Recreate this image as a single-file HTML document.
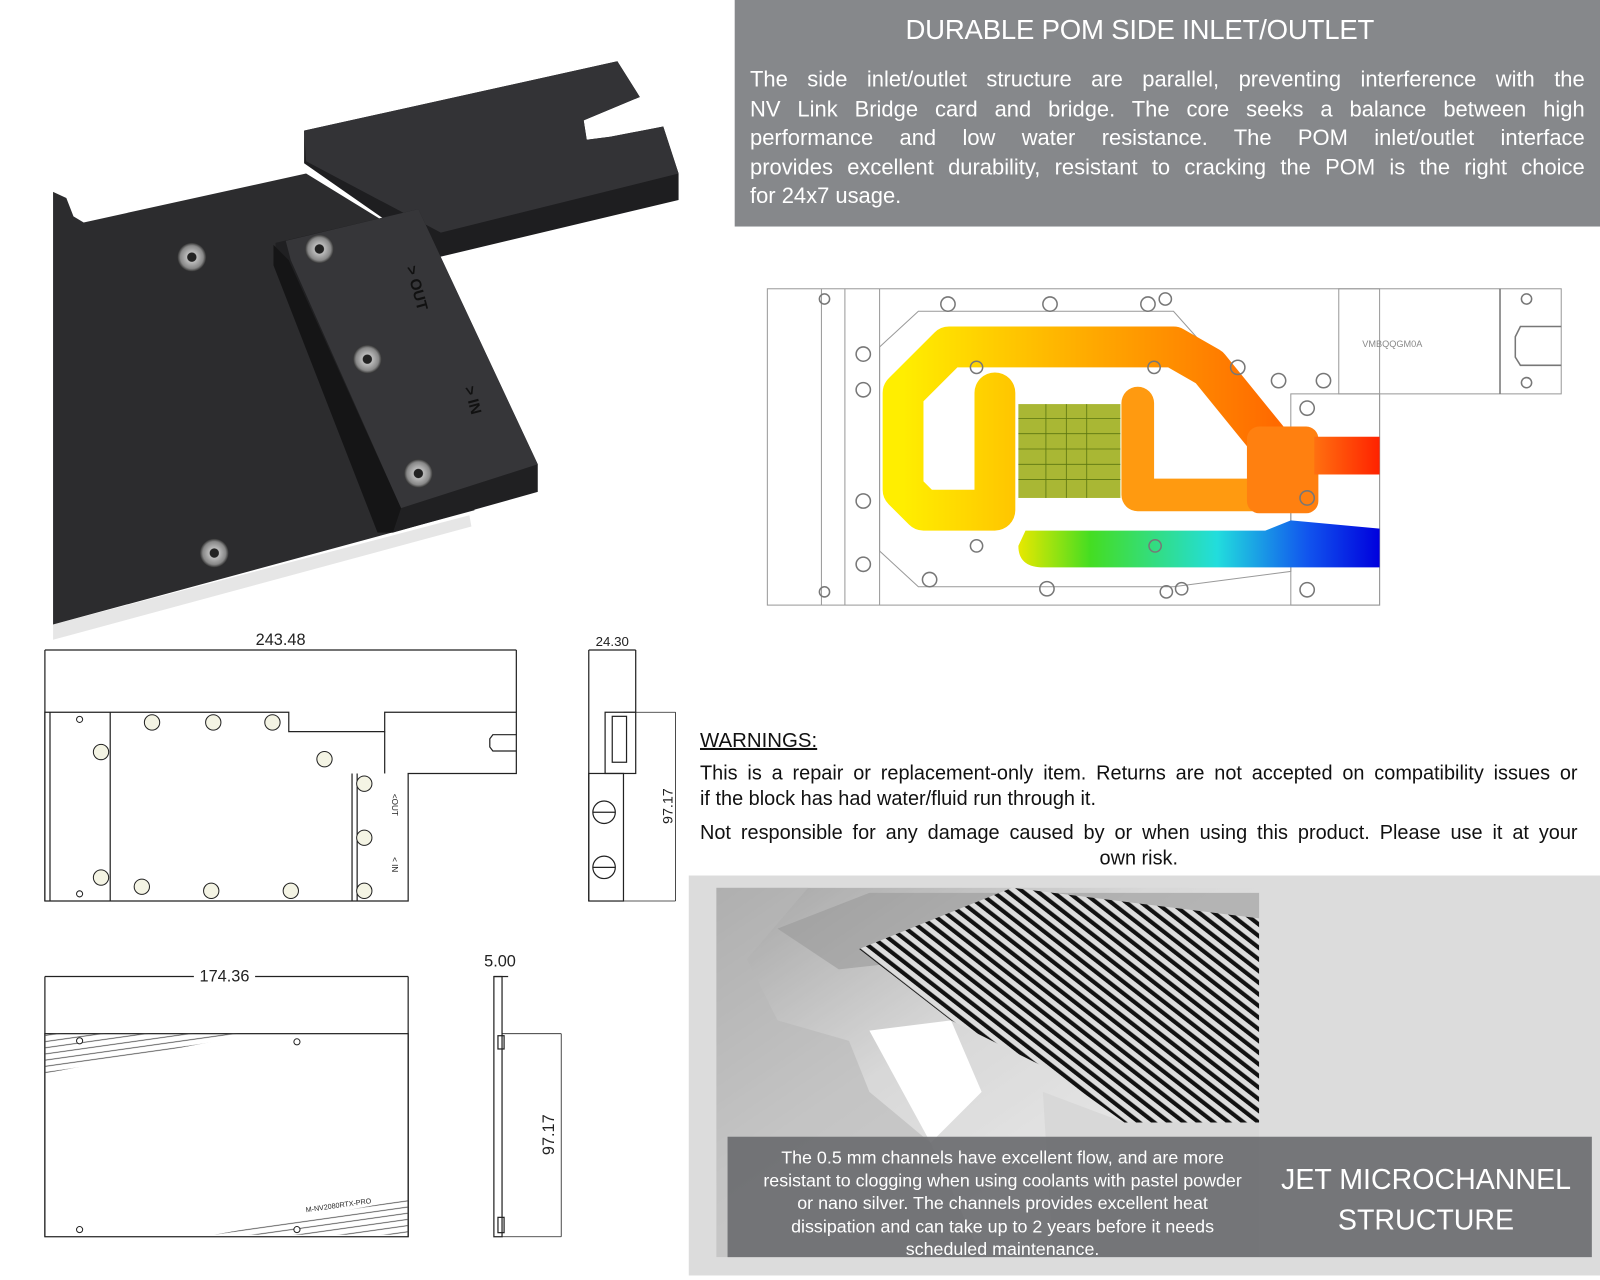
<!DOCTYPE html>
<html><head><meta charset="utf-8">
<style>
html,body{margin:0;padding:0;background:#fff;}
body{width:1600px;height:1280px;overflow:hidden;position:relative;font-family:"Liberation Sans",sans-serif;}
#w{position:absolute;left:0;top:0;width:1568px;height:1254px;transform:scale(1.02041);transform-origin:0 0;}
.abs{position:absolute;}
.j{text-align:justify;text-align-last:justify;white-space:nowrap;}
#hdr{left:720px;top:0;width:848px;height:222px;background:#86888b;color:#fff;}
#hdr h1{margin:0;position:absolute;top:14px;left:0;width:794px;text-align:center;font-weight:normal;font-size:27px;letter-spacing:-0.2px;}
#hdr .p{position:absolute;left:15px;top:64px;width:818px;font-size:21.5px;line-height:28.5px;}
#hdr .p div{white-space:nowrap;}
#warn{left:686px;top:714px;width:860px;font-size:19.5px;line-height:25.5px;color:#111;}
#gray{left:675px;top:858px;width:893px;height:392px;background:#dcdcdc;}
#ov{left:713px;top:1114px;width:847px;height:118px;background:rgba(105,106,110,0.9);color:#fff;}
#ovt{left:720px;top:1123px;width:525px;text-align:center;font-size:17.5px;line-height:22.5px;color:#fff;white-space:nowrap;}
#jet{left:1245px;top:1136px;width:305px;text-align:center;font-size:28px;line-height:40px;color:#fff;}
</style></head><body><div id="w">
<svg class="abs" style="left:0;top:0" width="1568" height="1254" viewBox="0 0 1568 1254">
<defs>
<linearGradient id="hot" x1="0" x2="1" y1="0" y2="0"><stop offset="0" stop-color="#ffee00"/><stop offset="0.5" stop-color="#ffaa00"/><stop offset="1" stop-color="#ff6a00"/></linearGradient>
<linearGradient id="cold" x1="0" x2="1"><stop offset="0" stop-color="#e8e800"/><stop offset="0.2" stop-color="#44dd22"/><stop offset="0.55" stop-color="#22dddd"/><stop offset="0.8" stop-color="#1155ee"/><stop offset="1" stop-color="#0000dd"/></linearGradient>
<linearGradient id="red" x1="0" x2="1"><stop offset="0" stop-color="#ff7010"/><stop offset="1" stop-color="#ff2200"/></linearGradient>
<linearGradient id="metal" x1="0" x2="1" y1="0" y2="1"><stop offset="0" stop-color="#8a8a8a"/><stop offset="0.4" stop-color="#d0d0d0"/><stop offset="1" stop-color="#f2f2f2"/></linearGradient>
<pattern id="str" width="9" height="9" patternUnits="userSpaceOnUse" patternTransform="rotate(-52)"><rect width="9" height="9" fill="#ddd"/><rect width="4" height="9" fill="#111"/></pattern>
<pattern id="hat" width="6" height="6" patternUnits="userSpaceOnUse" patternTransform="rotate(-8)"><line x1="0" y1="3" x2="6" y2="3" stroke="#444" stroke-width="0.8"/></pattern>
<radialGradient id="scr"><stop offset="0" stop-color="#222"/><stop offset="0.3" stop-color="#222"/><stop offset="0.35" stop-color="#bbb"/><stop offset="0.8" stop-color="#888"/><stop offset="1" stop-color="#333"/></radialGradient>
</defs>
<polygon points="52,612 460,505 462,516 52,627" fill="#e6e6e6"/>
<polygon points="52,188 65,194 72,212 82,218 300,170 430,250 465,500 52,612" fill="#2c2c2e"/>
<polygon points="298,128 605,60 627,95 572,118 575,137 598,134 650,124 665,170 665,196 430,252 298,160" fill="#1e1e20"/>
<polygon points="298,128 605,60 627,95 572,118 575,137 598,134 650,124 665,170 432,228 300,158" fill="#333336"/>
<polygon points="270,238 410,205 527,455 527,482 385,522 270,250" fill="#202022"/>
<polygon points="280,236 410,205 527,455 393,498 285,255" fill="#363639"/>
<polygon points="268,240 283,255 393,498 385,522 370,522 268,260" fill="#151516"/>
<g fill="url(#scr)"><circle cx="188" cy="252" r="14"/><circle cx="313" cy="244" r="14"/><circle cx="360" cy="352" r="14"/><circle cx="410" cy="464" r="14"/><circle cx="210" cy="542" r="14"/></g>
<text x="398" y="262" transform="rotate(75 398 262)" font-size="15" fill="#111" font-weight="bold">&gt; OUT</text>
<text x="455" y="380" transform="rotate(75 455 380)" font-size="15" fill="#111" font-weight="bold">&gt; IN</text>

<g stroke="#999" stroke-width="1" fill="none">
<rect x="752" y="283" width="600" height="310"/>
<line x1="805" y1="283" x2="805" y2="593"/><line x1="828" y1="283" x2="828" y2="593"/><line x1="862" y1="283" x2="862" y2="593"/>
<rect x="1312" y="283" width="218" height="103"/>
<rect x="1265" y="386" width="87" height="207"/>
<polygon points="900,305 1150,305 1190,350 1265,430 1265,560 1150,575 900,575 862,540 862,340"/>
</g>
<path d="M1250,440 L1185,360 L1150,340 L930,340 L885,385 L885,480 L905,500 L975,500 L975,385" fill="none" stroke="url(#hot)" stroke-width="40" stroke-linejoin="round" stroke-linecap="round"/>
<path d="M1115,395 L1115,485 L1230,485" fill="none" stroke="#ff9a10" stroke-width="32" stroke-linejoin="round" stroke-linecap="round"/>
<rect x="1222" y="418" width="70" height="85" rx="12" fill="#ff8010"/>
<rect x="1288" y="428" width="64" height="37" fill="url(#red)"/>
<rect x="998" y="396" width="100" height="92" fill="#9aaa10" opacity="0.85"/>
<g stroke="#3a5a00" stroke-width="0.8" opacity="0.7"><line x1="998" y1="410" x2="1098" y2="410"/><line x1="998" y1="425" x2="1098" y2="425"/><line x1="998" y1="440" x2="1098" y2="440"/><line x1="998" y1="455" x2="1098" y2="455"/><line x1="998" y1="470" x2="1098" y2="470"/><line x1="1025" y1="396" x2="1025" y2="488"/><line x1="1045" y1="396" x2="1045" y2="488"/><line x1="1065" y1="396" x2="1065" y2="488"/></g>
<path d="M1005,520 L1240,520 L1265,510 L1352,518 L1352,556 L1020,556 Q998,555 998,535 Z" fill="url(#cold)"/>
<g fill="none" stroke="#777" stroke-width="1.5">
<circle cx="808" cy="293" r="5"/><circle cx="929" cy="298" r="7"/><circle cx="1029" cy="298" r="7"/><circle cx="1125" cy="298" r="7"/><circle cx="1142" cy="293" r="6"/>
<circle cx="846" cy="347" r="7"/><circle cx="846" cy="382" r="7"/><circle cx="846" cy="491" r="7"/><circle cx="846" cy="553" r="7"/><circle cx="808" cy="580" r="5"/>
<circle cx="957" cy="360" r="6"/><circle cx="1131" cy="360" r="6"/><circle cx="1213" cy="360" r="7"/><circle cx="1253" cy="373" r="7"/><circle cx="1297" cy="373" r="7"/>
<circle cx="1281" cy="400" r="7"/><circle cx="1281" cy="488" r="7"/><circle cx="1281" cy="578" r="7"/><circle cx="957" cy="535" r="6"/><circle cx="1132" cy="535" r="6"/>
<circle cx="911" cy="568" r="7"/><circle cx="1026" cy="577" r="7"/><circle cx="1143" cy="580" r="6"/><circle cx="1158" cy="577" r="6"/><circle cx="1496" cy="293" r="5"/><circle cx="1496" cy="375" r="5"/>
<line x1="1470" y1="283" x2="1470" y2="386"/>
<path d="M1530,320 L1490,320 L1485,330 L1485,350 L1490,358 L1530,358"/>
</g>
<text x="1335" y="340" font-size="9" fill="#888">VMBQQGM0A</text>

<g stroke="#222" stroke-width="1.2" fill="none">
<line x1="44" y1="637" x2="506" y2="637"/><line x1="44" y1="637" x2="44" y2="883"/><line x1="506" y1="637" x2="506" y2="698"/>
<polygon points="44,698 283,698 283,717 377,717 377,698 506,698 506,758 400,758 400,883 44,883" fill="#fff"/>
<line x1="49" y1="698" x2="49" y2="883"/><line x1="108" y1="698" x2="108" y2="883"/><line x1="345" y1="758" x2="345" y2="883"/><line x1="350" y1="758" x2="350" y2="883"/><line x1="377" y1="717" x2="377" y2="758"/>
<path d="M506,720 L483,720 L480,724 L480,732 L483,736 L506,736"/>
<line x1="577" y1="637" x2="623" y2="637"/><line x1="577" y1="637" x2="577" y2="883"/><line x1="623" y1="637" x2="623" y2="698"/>
<rect x="593" y="698" width="30" height="60"/><rect x="577" y="758" width="34" height="125"/>
<line x1="611" y1="698" x2="662" y2="698" stroke-width="0.8"/><line x1="611" y1="883" x2="662" y2="883" stroke-width="0.8"/><line x1="662" y1="698" x2="662" y2="883" stroke-width="0.8"/>
<circle cx="592" cy="796" r="11"/><circle cx="592" cy="850" r="11"/><line x1="581" y1="796" x2="603" y2="796"/><line x1="581" y1="850" x2="603" y2="850"/>
<rect x="600" y="702" width="14" height="45"/>
<line x1="44" y1="957" x2="190" y2="957"/><line x1="250" y1="957" x2="400" y2="957"/><line x1="44" y1="957" x2="44" y2="1212"/><line x1="400" y1="957" x2="400" y2="1212"/>
<rect x="44" y="1013" width="356" height="199"/>
<line x1="484" y1="957" x2="498" y2="957"/><rect x="484" y="957" width="8" height="255"/><rect x="488" y="1015" width="6" height="13"/><rect x="488" y="1193" width="6" height="15"/>
<line x1="492" y1="1013" x2="550" y2="1013" stroke-width="0.8"/><line x1="492" y1="1212" x2="550" y2="1212" stroke-width="0.8"/><line x1="550" y1="1013" x2="550" y2="1212" stroke-width="0.8"/>
</g>
<polygon points="44,1013 250,1013 44,1052" fill="url(#hat)"/>
<polygon points="400,1175 400,1210 210,1210" fill="url(#hat)"/>
<g fill="#f4f4e4" stroke="#222" stroke-width="1">
<circle cx="149" cy="708" r="7.5"/><circle cx="209" cy="708" r="7.5"/><circle cx="267" cy="708" r="7.5"/><circle cx="99" cy="737" r="7.5"/><circle cx="318" cy="744" r="7.5"/><circle cx="99" cy="860" r="7.5"/><circle cx="139" cy="869" r="7.5"/><circle cx="207" cy="873" r="7.5"/><circle cx="285" cy="873" r="7.5"/><circle cx="357" cy="768" r="7.5"/><circle cx="357" cy="821" r="7.5"/><circle cx="357" cy="873" r="7.5"/>
</g>
<g fill="#fff" stroke="#222" stroke-width="1"><circle cx="78" cy="705" r="3"/><circle cx="78" cy="876" r="3"/><circle cx="78" cy="1020" r="3"/><circle cx="291" cy="1021" r="3"/><circle cx="78" cy="1205" r="3"/><circle cx="291" cy="1205" r="3"/></g>
<g font-size="16" fill="#222">
<text x="275" y="632" text-anchor="middle">243.48</text>
<text x="600" y="633" text-anchor="middle" font-size="13">24.30</text>
<text x="220" y="962" text-anchor="middle">174.36</text>
<text x="490" y="947" text-anchor="middle">5.00</text>
<text x="659" y="790" text-anchor="middle" font-size="14" transform="rotate(-90 659 790)">97.17</text>
<text x="543" y="1112" text-anchor="middle" transform="rotate(-90 543 1112)">97.17</text>
<text x="384" y="778" font-size="8" transform="rotate(90 384 778)">&lt;OUT</text>
<text x="384" y="840" font-size="8" transform="rotate(90 384 840)">&lt; IN</text>
<text x="300" y="1188" font-size="7" transform="rotate(-8 300 1188)">M-NV2080RTX-PRO</text>
</g>
</svg>

<div id="hdr" class="abs"><h1>DURABLE POM SIDE INLET/OUTLET</h1>
<div class="p">
<div class="j">The side inlet/outlet structure are parallel, preventing interference with the</div>
<div class="j">NV Link Bridge card and bridge. The core seeks a balance between high</div>
<div class="j">performance and low water resistance. The POM inlet/outlet interface</div>
<div class="j">provides excellent durability, resistant to cracking the POM is the right choice</div>
<div>for 24x7 usage.</div>
</div></div>

<div id="warn" class="abs"><div style="text-decoration:underline;font-size:20px;margin-bottom:6px">WARNINGS:</div>
<div class="j">This is a repair or replacement-only item. Returns are not accepted on compatibility issues or</div>
<div>if the block has had water/fluid run through it.</div>
<div class="j" style="margin-top:7px">Not responsible for any damage caused by or when using this product. Please use it at your</div>
<div style="text-align:center;padding-left:0px">own risk.</div></div>

<div id="gray" class="abs"></div>
<svg class="abs" style="left:702px;top:870px" width="532" height="362" viewBox="0 0 532 362">
<rect width="532" height="362" fill="url(#metal)"/>
<rect width="532" height="362" fill="#f0f0f0" opacity="0.25"/>
<polygon points="0,0 90,0 30,70 60,130 130,150 150,200 210,250 260,362 0,362" fill="#b8b8b8" opacity="0.6"/>
<polygon points="60,40 150,5 532,5 532,80 300,60 120,80" fill="#9a9a9a" opacity="0.6"/>
<polygon points="140,60 290,0 532,30 532,230 400,230 330,180 230,130" fill="url(#str)"/>
<polygon points="150,140 230,130 260,200 210,250" fill="#fff"/>
<polygon points="320,200 400,230 532,230 532,362 330,362" fill="#d8d8d8"/>
</svg>
<div id="ov" class="abs"></div>
<div id="ovt" class="abs">The 0.5 mm channels have excellent flow, and are more<br>resistant to clogging when using coolants with pastel powder<br>or nano silver. The channels provides excellent heat<br>dissipation and can take up to 2 years before it needs<br>scheduled maintenance.</div>
<div id="jet" class="abs">JET MICROCHANNEL<br>STRUCTURE</div>
</div></body></html>
